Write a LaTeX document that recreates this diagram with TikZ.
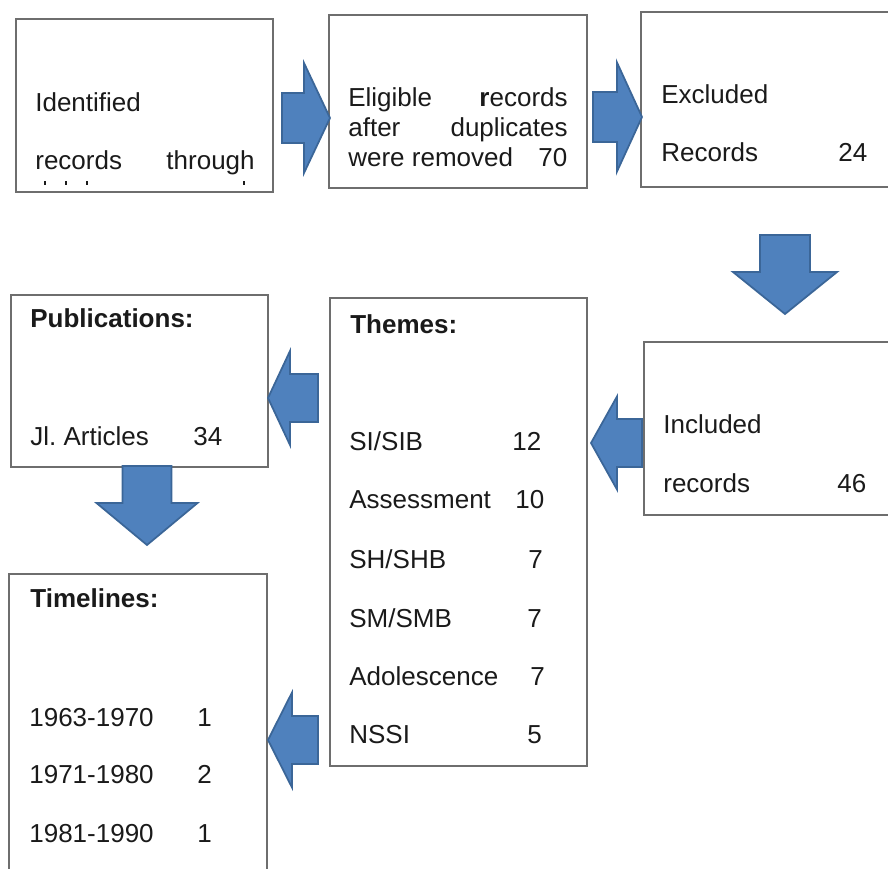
\documentclass[tikz,border=0pt]{standalone}
\usepackage{fontspec}
\setmainfont{Liberation Sans}
\usetikzlibrary{calc}
\frenchspacing
\definecolor{arrowblue}{HTML}{4F81BD}
\definecolor{arrowedge}{HTML}{3B6698}
\definecolor{boxgray}{HTML}{6E6E6E}
\definecolor{inktext}{HTML}{1A1A1A}
% block arrow: tip, angle, length, head length, head half width, shaft half width
\newcommand{\blockarrow}[6]{%
  \draw[blockarrow,shift={(#1)},rotate=#2] (0,0) -- (-#4,-#5) -- (-#4,-#6) -- (-#3,-#6)
    -- (-#3,#6) -- (-#4,#6) -- (-#4,#5) -- cycle;}

\begin{document}
\begin{tikzpicture}[x=0.02cm,y=-0.02cm,
    box/.style={draw=boxgray,line width=0.8pt,inner sep=0pt,outer sep=0pt},
    txt/.style={inner sep=0pt,anchor=base west,text=inktext,font=\fontsize{14.8}{17}\selectfont},
    rtxt/.style={txt,anchor=base east},
    headtxt/.style={txt,font=\fontsize{14.8}{17}\selectfont\bfseries},
    blockarrow/.style={fill=arrowblue,draw=arrowedge,line width=1pt,line join=miter}]
  \useasboundingbox (0,0) rectangle (888,868);

  % Boxes
  \node[box,minimum width=5.14cm,minimum height=3.46cm] (ident) at (144.5,105.5) {};
  \node[box,minimum width=5.16cm,minimum height=3.46cm] (elig) at (458,101.5) {};
  \node[box,minimum width=5.18cm,minimum height=3.50cm] (excl) at (770.5,99.5) {};
  \node[box,minimum width=5.12cm,minimum height=3.46cm] (incl) at (772,428.5) {};
  \node[box,minimum width=5.14cm,minimum height=9.36cm] (themes) at (458.5,532) {};
  \node[box,minimum width=5.14cm,minimum height=3.44cm] (pub) at (139.5,381) {};
  \node[box,minimum width=5.16cm,minimum height=6.52cm] (time) at (138,737) {};

  % Identified records
  \node[txt] (identA) at (35,112) {Identified};
  \node[txt] (identB) at (35,170) {records};
  \node[rtxt] (identC) at (255,170) {through};
  \foreach \mx in {45,66,87,244}
    \fill[inktext] (\mx-1,181) rectangle (\mx+1,185);

  % Eligible records
  \node[txt] (eligA) at (348,107) {Eligible};
  \node[rtxt] (eligB) at (568,107) {\textbf{r}ecords};
  \node[txt] (eligC) at (348,137) {after};
  \node[rtxt] (eligD) at (568,137) {duplicates};
  \node[txt] (eligE) at (348,167) {were removed};
  \node[txt] (eligF) at (538,167) {70};

  % Excluded and included records
  \node[txt] (exclA) at (661,104) {Excluded};
  \node[txt] (exclB) at (661,162) {Records};
  \node[txt] (exclC) at (838,162) {24};
  \node[txt] (inclA) at (663,433) {Included};
  \node[txt] (inclB) at (663,492) {records};
  \node[txt] (inclC) at (837,492) {46};

  % Themes
  \node[headtxt] (themesHead) at (350,333) {Themes:};
  \foreach \ty/\tname/\tnum/\tx [count=\i] in {450/SI\slash SIB/12/512, 508/Assessment/10/515,
      568/SH\slash SHB/7/528, 627/SM\slash SMB/7/527, 685/Adolescence/7/530, 743/NSSI/5/527}{
    \node[txt] (theme\i) at (349,\ty) {\tname};
    \node[txt] (themeNum\i) at (\tx,\ty) {\tnum};
  }

  % Publications
  \node[headtxt] (pubHead) at (30,327) {Publications:};
  \node[txt] (pubA) at (30,445) {Jl. Articles};
  \node[txt] (pubB) at (193,445) {34};

  % Timelines
  \node[headtxt] (timeHead) at (30,607) {Timelines:};
  \foreach \ty/\tspan/\tnum [count=\i] in {726/1963-1970/1, 783/1971-1980/2, 842/1981-1990/1}{
    \node[txt] (span\i) at (29,\ty) {\tspan};
    \node[txt] (spanNum\i) at (197,\ty) {\tnum};
  }

  % Arrow tips
  \coordinate (identToElig) at (330,118);
  \coordinate (eligToExcl) at (642,117);
  \coordinate (exclToIncl) at (785,314);
  \coordinate (inclToThemes) at (591,443);
  \coordinate (themesToPub) at (268,398);
  \coordinate (pubToTime) at (147,545);
  \coordinate (themesToTime) at (268,740);

  \blockarrow{identToElig}{0}{48}{26}{55}{25}
  \blockarrow{eligToExcl}{0}{49}{25}{54.5}{25}
  \blockarrow{exclToIncl}{-90}{79}{42}{52}{25}
  \blockarrow{inclToThemes}{180}{51}{26}{46.5}{24}
  \blockarrow{themesToPub}{180}{50}{22}{47}{24}
  \blockarrow{pubToTime}{-90}{79}{42}{50.5}{24.5}
  \blockarrow{themesToTime}{180}{50}{24}{47.5}{24}
\end{tikzpicture}
\end{document}
